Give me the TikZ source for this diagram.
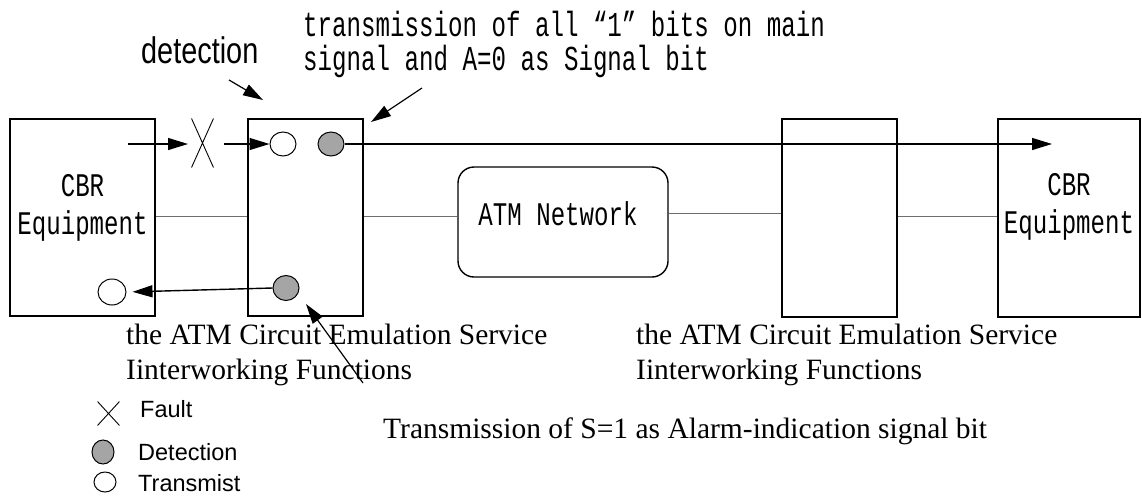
\documentclass[tikz,border=0pt]{standalone}
\usepackage{fontspec}
\setmainfont{Liberation Serif}
\newfontfamily\arialfont{Liberation Sans}
\newfontfamily\arialnarrow[FakeStretch=0.78]{Liberation Sans}
\newfontfamily\monofont[FakeStretch=0.73]{Liberation Mono}
\newfontfamily\monotopfont[FakeStretch=0.69]{Liberation Mono}
\usetikzlibrary{shapes.geometric,shapes.misc,arrows.meta}
\definecolor{dotgray}{RGB}{165,165,165}
\definecolor{linkgray}{RGB}{110,110,110}
\tikzset{
  box/.style={draw=black, line width=1.4pt, inner sep=0pt},
  link/.style={draw=linkgray, line width=1pt},
  arr/.style={draw=black, line width=1.4pt, -{Triangle[length=20pt,width=12pt]}},
  thinarr/.style={draw=black, line width=1.2pt, -{Triangle[length=20pt,width=12pt]}},
  opendot/.style={ellipse, draw=black, line width=1pt, fill=white, inner sep=0pt},
  detdot/.style={ellipse, draw=black, line width=1pt, fill=dotgray, inner sep=0pt},
  faultx/.style={cross out, draw=black, line width=0.9pt, inner sep=0pt},
  monotext/.style={inner sep=0pt, font=\monofont\fontsize{33}{34}\selectfont},
  monotop/.style={inner sep=0pt, font=\monotopfont\fontsize{35}{36}\selectfont},
  serif/.style={inner sep=0pt, font=\fontsize{29.5}{32}\selectfont},
  sans/.style={inner sep=0pt, font=\arialfont\fontsize{23.5}{26}\selectfont},
}
\begin{document}
\begin{tikzpicture}[x=1pt,y=-1pt]
\useasboundingbox (0,0) rectangle (1142,499);
% boxes
\node[box, minimum width=145pt, minimum height=197pt] (cbrL) at (82.5,217.5) {};
\node[box, minimum width=115pt, minimum height=197pt] (iwfL) at (305.5,217.5) {};
\node[box, rounded corners=16pt, minimum width=210pt, minimum height=110pt] (atm) at (563,222) {};
\node[box, minimum width=115pt, minimum height=198pt] (iwfR) at (839.5,218) {};
\node[box, minimum width=142pt, minimum height=198pt] (cbrR) at (1069,218) {};
% box texts
\node[monotext, anchor=base] (cbrLa) at (82.5,196) {CBR};
\node[monotext, anchor=base] (cbrLb) at (82.5,234) {Equipment};
\node[monotext, anchor=base] (cbrRa) at (1069,195) {CBR};
\node[monotext, anchor=base] (cbrRb) at (1069,233) {Equipment};
\node[monotext, anchor=base] (atmt) at (558,225) {ATM Network};
% grey links
\draw[link] ([yshift=1.5pt]cbrL.east) -- ([yshift=1.5pt]iwfL.west);
\draw[link] ([yshift=1.5pt]iwfL.east) -- ([yshift=6pt]atm.west);
\draw[link] ([yshift=9pt]atm.east) -- ([yshift=5pt]iwfR.west);
\draw[link] ([yshift=2pt]iwfR.east) -- ([yshift=2pt]cbrR.west);
% dots
\node[opendot, minimum width=26pt, minimum height=24pt] (oIn) at (283,144) {};
\node[detdot, minimum width=26pt, minimum height=24pt] (dOut) at (331,144) {};
\node[detdot, minimum width=26pt, minimum height=25pt] (dBack) at (286,288) {};
\node[opendot, minimum width=28pt, minimum height=26pt] (oBack) at (112,292) {};
\node[faultx, minimum width=21pt, minimum height=48pt] (fault) at (202.5,143) {};
% signal arrows
\coordinate (inS) at (128,144);
\coordinate (inE) at (188,144);
\coordinate (midS) at (224,144);
\coordinate (outE) at (1052,144);
\draw[arr] (inS) -- (inE);
\draw[arr] (midS) -- (oIn.west);
\draw[arr] (dOut.east) -- (outE);
\draw[arr, shorten >=6pt] (dBack.west) -- (oBack.east);
% annotations
\node[inner sep=0pt, anchor=base west, font=\arialnarrow\fontsize{37}{40}\selectfont] (det) at (141,63) {detection};
\coordinate (detS) at (229,80);
\coordinate (detE) at (263,100);
\draw[thinarr] (detS) -- (detE);
\node[monotop, anchor=base west] (tx1) at (303,36) {transmission of all “1” bits on main};
\node[monotop, anchor=base west] (tx2) at (303,70) {signal and A=0 as Signal bit};
\coordinate (txS) at (422,88);
\coordinate (txE) at (371,122);
\draw[thinarr] (txS) -- (txE);
\node[serif, anchor=base west] (iwfLa) at (126,344) {the ATM Circuit Emulation Service};
\node[serif, anchor=base west] (iwfLb) at (126,379) {Iinterworking Functions};
\node[serif, anchor=base west] (iwfRa) at (636,344) {the ATM Circuit Emulation Service};
\node[serif, anchor=base west] (iwfRb) at (636,379) {Iinterworking Functions};
\node[serif, anchor=base west] (stx) at (383,438) {Transmission of S=1 as Alarm-indication signal bit};
\coordinate (sS) at (363,383);
\coordinate (sE) at (306,304);
\draw[thinarr] (sS) -- (sE);
% legend
\node[faultx, minimum width=21pt, minimum height=23pt] (lgX) at (108.5,413.5) {};
\node[detdot, minimum width=22pt, minimum height=24pt] (lgD) at (103,452) {};
\node[opendot, minimum width=22pt, minimum height=20pt] (lgO) at (105,482) {};
\node[sans, anchor=base west] (lgXt) at (140,417) {Fault};
\node[sans, anchor=base west] (lgDt) at (138,460) {Detection};
\node[sans, anchor=base west] (lgOt) at (138,491) {Transmist};
\end{tikzpicture}
\end{document}
